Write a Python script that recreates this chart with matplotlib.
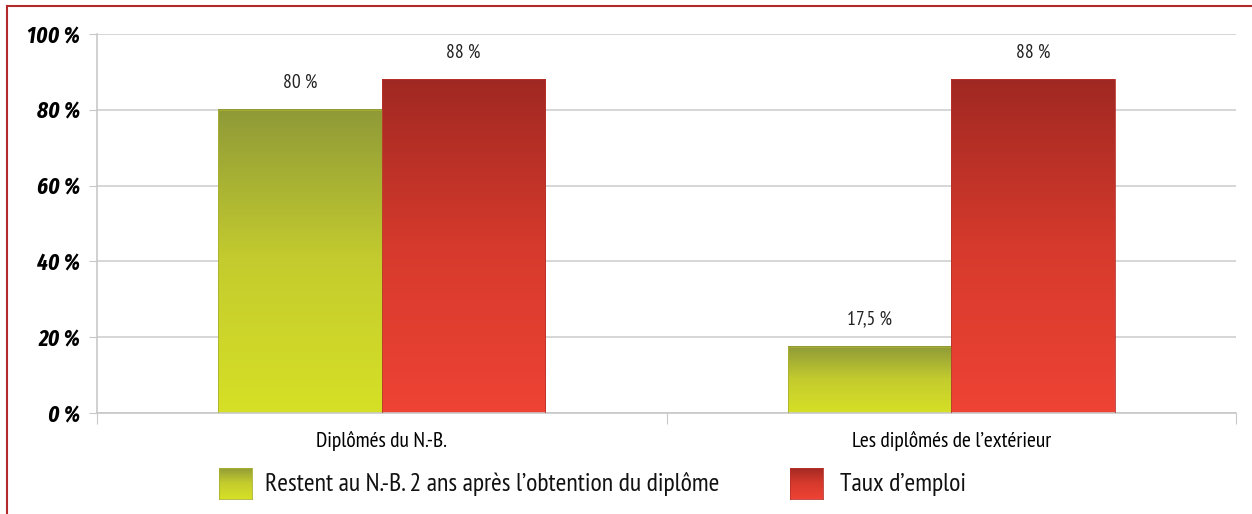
import numpy as np
import matplotlib.pyplot as plt
from matplotlib.colors import LinearSegmentedColormap
from matplotlib.patches import Rectangle
from matplotlib.ticker import FuncFormatter

categories = ['Diplômés du N.-B.', "Les diplômés de l’extérieur"]
restent = [80, 17.5]
emploi = [88, 88]
labels_restent = ['80 %', '17,5 %']
labels_emploi = ['88 %', '88 %']
series_names = ['Restent au N.-B. 2 ans après l’obtention du diplôme', 'Taux d’emploi']

plt.rcParams['font.family'] = ['PT Sans Narrow', 'DejaVu Sans']
tick_font = ['Fira Sans Extra Condensed', 'DejaVu Sans']

green_cmap = LinearSegmentedColormap.from_list('g', ['#d6e025', '#c4cc2e', '#8f9a38'])
red_cmap = LinearSegmentedColormap.from_list('r', ['#ee4335', '#d63a2c', '#a02822'])

fig = plt.figure(figsize=(12.52, 5.14), dpi=100)
ax = fig.add_axes([97 / 1252, 1 - 413 / 514, (1236 - 97) / 1252, (413 - 34) / 514])

x = np.arange(len(categories))
width = 0.2875
grad = np.linspace(0, 1, 256).reshape(-1, 1)

def gradient_bars(xpos, vals, cmap, edge):
    bars = ax.bar(xpos, vals, width, color='none', edgecolor=edge, linewidth=0.6, zorder=3)
    for b in bars:
        x0, y0 = b.get_x(), b.get_y()
        w, h = b.get_width(), b.get_height()
        ax.imshow(grad, cmap=cmap, aspect='auto', origin='lower',
                  extent=[x0, x0 + w, y0, y0 + h], zorder=2)
    return bars

b1 = gradient_bars(x - width / 2, restent, green_cmap, '#a9b030')
b2 = gradient_bars(x + width / 2, emploi, red_cmap, '#b8322a')

for b, t in zip(list(b1) + list(b2), labels_restent + labels_emploi):
    ax.text(b.get_x() + b.get_width() / 2, b.get_height() + 4.8, t,
            ha='center', va='bottom', fontsize=14, color='#222222')

ax.set_xlim(-0.5, 1.5)
ax.set_ylim(0, 100)
ax.set_yticks(range(0, 101, 20))
ax.yaxis.set_major_formatter(FuncFormatter(lambda v, p: f'{int(v)} %'))
for lab in ax.get_yticklabels():
    lab.set_family(tick_font)
    lab.set_fontweight('bold')
    lab.set_fontstyle('italic')
    lab.set_fontsize(16.5)
ax.tick_params(axis='y', length=6, color='#c8c8c8', pad=6)

ax.set_xticks([-0.5, 0.5, 1.5])
ax.set_xticklabels([])
ax.set_xticks(x, minor=True)
ax.set_xticklabels(categories, minor=True, fontsize=15.5)
ax.tick_params(axis='x', which='major', length=8, color='#c8c8c8')
ax.tick_params(axis='x', which='minor', length=0, pad=13)

ax.grid(axis='y', color='#d0d0d0', linewidth=1.2, zorder=0)
ax.set_axisbelow(True)
for s in ['top', 'right']:
    ax.spines[s].set_visible(False)
ax.spines['left'].set_color('#c8c8c8')
ax.spines['bottom'].set_color('#c8c8c8')
ax.spines['left'].set_linewidth(1.2)
ax.spines['bottom'].set_linewidth(1.2)

# legend with gradient swatches
legend_items = [(series_names[0], green_cmap, '#a9b030', 219, 265),
                (series_names[1], red_cmap, '#b8322a', 790, 840)]
for name, cmap, edge, sx, tx in legend_items:
    lax = fig.add_axes([sx / 1252, 1 - 499 / 514, 33 / 1252, 31 / 514])
    lax.imshow(grad, cmap=cmap, aspect='auto', origin='lower')
    lax.set_xticks([])
    lax.set_yticks([])
    for s in lax.spines.values():
        s.set_color(edge)
        s.set_linewidth(0.6)
    fig.text(tx / 1252, 1 - 484 / 514, name, fontsize=18.5, va='center', ha='left', color='#111111')

# red frame (top and left edges visible)
fig.patches.append(Rectangle((7 / 1252, -0.1), 1.2, 1 - 6 / 514 + 0.1, transform=fig.transFigure,
                             fill=False, edgecolor='#b22a2a', linewidth=1.5))

fig.savefig('out.png', dpi=100)
